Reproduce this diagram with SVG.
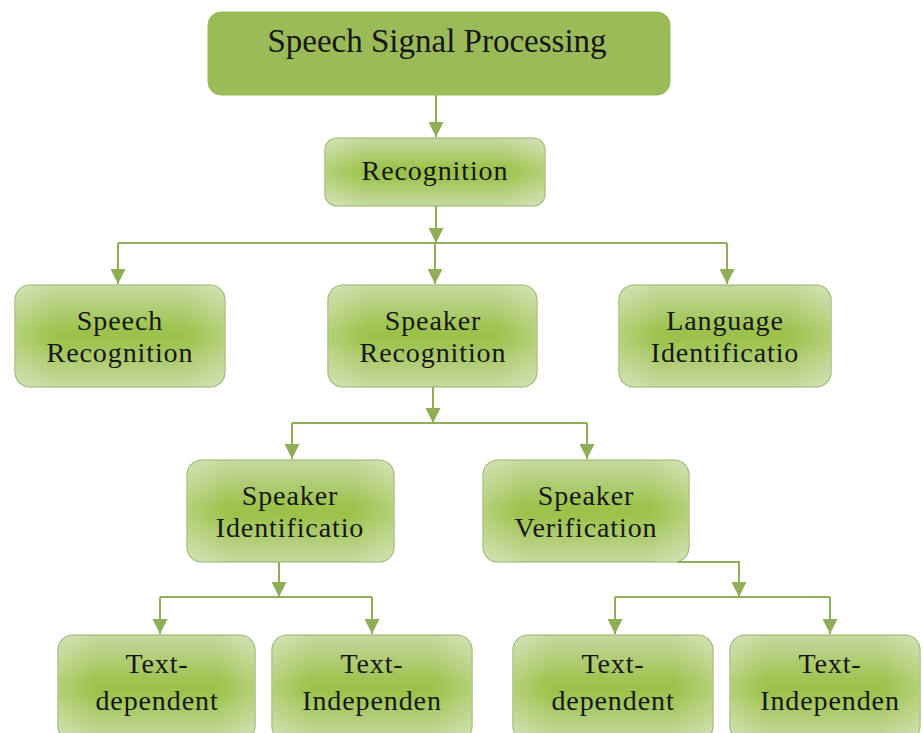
<svg xmlns="http://www.w3.org/2000/svg" width="923" height="733" viewBox="0 0 923 733">
<defs>
<linearGradient id="g" x1="0" y1="0" x2="0" y2="1">
<stop offset="0" stop-color="#c6d9a0"/>
<stop offset="0.45" stop-color="#9cc24c"/>
<stop offset="0.55" stop-color="#9cc24c"/>
<stop offset="1" stop-color="#c6d9a0"/>
</linearGradient>
<linearGradient id="gh" x1="0" y1="0" x2="1" y2="0">
<stop offset="0" stop-color="#ffffff" stop-opacity="0.25"/>
<stop offset="0.2" stop-color="#ffffff" stop-opacity="0"/>
<stop offset="0.8" stop-color="#ffffff" stop-opacity="0"/>
<stop offset="1" stop-color="#ffffff" stop-opacity="0.25"/>
</linearGradient>
<marker id="ah" viewBox="0 0 10 10" refX="10" refY="5" markerWidth="15" markerHeight="15" markerUnits="userSpaceOnUse" orient="auto">
<path d="M0,0 L10,5 L0,10 z" fill="#8fae58"/>
</marker>
</defs>
<style>
.box{fill:url(#g);stroke:#93b063;stroke-width:1.2}
.sheen{fill:url(#gh);stroke:none}
.top{fill:#9bbb59;stroke:#9bbb59}
text{font-family:"Liberation Serif","Times New Roman",serif;fill:#161616;text-anchor:middle}
.t1{font-size:33px}
.t2{font-size:28px;letter-spacing:0.9px}
.c{fill:none;stroke:#8fae58;stroke-width:2}
.a{marker-end:url(#ah)}
</style>
<rect width="923" height="733" fill="#ffffff"/>
<g id="connectors">
<path class="c a" d="M436 95 V137"/>
<path class="c a" d="M436 206 V243"/>
<path class="c" d="M118 243 H727"/>
<path class="c a" d="M118 243 V284"/>
<path class="c a" d="M435 243 V284"/>
<path class="c a" d="M727 243 V284"/>
<path class="c a" d="M433 387 V423"/>
<path class="c" d="M292 423 H587"/>
<path class="c a" d="M292 423 V459"/>
<path class="c a" d="M587 423 V459"/>
<path class="c a" d="M279 562 V597"/>
<path class="c" d="M160 597 H372"/>
<path class="c a" d="M160 597 V634"/>
<path class="c a" d="M372 597 V634"/>
<path class="c a" d="M677 562 H739 V597"/>
<path class="c" d="M615 597 H830"/>
<path class="c a" d="M615 597 V634"/>
<path class="c a" d="M830 597 V634"/>
</g>
<g id="n-ssp">
<rect class="top" x="208" y="12" width="462" height="83" rx="13"/>
<text class="t1" x="437" y="52">Speech Signal Processing</text>
</g>
<g id="n-recognition">
<rect class="box" x="325" y="138" width="220" height="68" rx="12"/>
<rect class="sheen" x="325" y="138" width="220" height="68" rx="12"/>
<text class="t2" x="435" y="180">Recognition</text>
</g>
<g id="n-speech-rec">
<rect class="box" x="15" y="285" width="210" height="102" rx="15"/>
<rect class="sheen" x="15" y="285" width="210" height="102" rx="15"/>
<text class="t2" x="120" y="330">Speech</text>
<text class="t2" x="120" y="362">Recognition</text>
</g>
<g id="n-speaker-rec">
<rect class="box" x="328" y="285" width="209" height="102" rx="15"/>
<rect class="sheen" x="328" y="285" width="209" height="102" rx="15"/>
<text class="t2" x="433" y="330">Speaker</text>
<text class="t2" x="433" y="362">Recognition</text>
</g>
<g id="n-lang-id">
<rect class="box" x="619" y="285" width="212" height="102" rx="15"/>
<rect class="sheen" x="619" y="285" width="212" height="102" rx="15"/>
<text class="t2" x="725" y="330">Language</text>
<text class="t2" x="725" y="362">Identificatio</text>
</g>
<g id="n-speaker-id">
<rect class="box" x="187" y="460" width="207" height="102" rx="15"/>
<rect class="sheen" x="187" y="460" width="207" height="102" rx="15"/>
<text class="t2" x="290" y="505">Speaker</text>
<text class="t2" x="290" y="537">Identificatio</text>
</g>
<g id="n-speaker-ver">
<rect class="box" x="483" y="460" width="206" height="102" rx="15"/>
<rect class="sheen" x="483" y="460" width="206" height="102" rx="15"/>
<text class="t2" x="586" y="505">Speaker</text>
<text class="t2" x="586" y="537">Verification</text>
</g>
<g id="n-td1">
<rect class="box" x="58" y="635" width="197" height="106" rx="15"/>
<rect class="sheen" x="58" y="635" width="197" height="106" rx="15"/>
<text class="t2" x="157" y="673">Text-</text>
<text class="t2" x="157" y="710">dependent</text>
</g>
<g id="n-ti1">
<rect class="box" x="272" y="635" width="200" height="106" rx="15"/>
<rect class="sheen" x="272" y="635" width="200" height="106" rx="15"/>
<text class="t2" x="372" y="673">Text-</text>
<text class="t2" x="372" y="710">Independen</text>
</g>
<g id="n-td2">
<rect class="box" x="513" y="635" width="200" height="106" rx="15"/>
<rect class="sheen" x="513" y="635" width="200" height="106" rx="15"/>
<text class="t2" x="613" y="673">Text-</text>
<text class="t2" x="613" y="710">dependent</text>
</g>
<g id="n-ti2">
<rect class="box" x="730" y="635" width="190" height="106" rx="15"/>
<rect class="sheen" x="730" y="635" width="190" height="106" rx="15"/>
<text class="t2" x="830" y="673">Text-</text>
<text class="t2" x="830" y="710">Independen</text>
</g>
</svg>
